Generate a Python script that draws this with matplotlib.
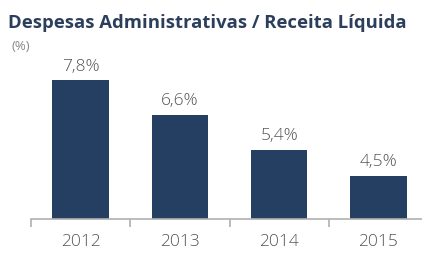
import matplotlib
matplotlib.use("Agg")
import matplotlib.pyplot as plt
import numpy as np

years = ["2012", "2013", "2014", "2015"]
values = [7.8, 6.6, 5.4, 4.5]
labels = ["7,8%", "6,6%", "5,4%", "4,5%"]
title = "Despesas Administrativas / Receita Líquida"
unit = "(%)"

W, H = 422, 256
fig = plt.figure(figsize=(W/100, H/100), dpi=100)
plt.rcParams['font.family'] = ['Open Sans', 'DejaVu Sans']

ax = fig.add_axes([31/W, 37/H, (428-31)/W, (219-60)/H])
x = np.arange(len(years))
ax.bar(x, values, width=0.57, color="#253f62", zorder=2)
ax.set_xlim(-0.5, 3.5)
ax.set_ylim(3.0, 8.5)

for xi, v, l in zip(x, values, labels):
    ax.annotate(l, (xi, v), xytext=(0, 4), textcoords="offset points",
                ha="center", va="bottom", fontsize=12.5, color="#555555",
                fontweight="light")

for s in ["top", "right", "left"]:
    ax.spines[s].set_visible(False)
ax.spines["bottom"].set_color("#b0b0b0")
ax.spines["bottom"].set_linewidth(1.2)
ax.set_yticks([])
ax.set_xticks(x)
ax.set_xticklabels(years, fontsize=12.5, color="#555555", fontweight="light")
ax.tick_params(axis="x", which="major", length=0, pad=11)
ax.set_xticks(np.arange(-0.5, 4, 1.0), minor=True)
ax.tick_params(axis="x", which="minor", length=6, color="#b0b0b0", width=1.2)

fig.text(8/W, 1 - 23/H, title, fontsize=13.3, fontweight="bold", color="#2b3f5c",
         ha="left", va="center")
fig.text(11/W, 1 - 47/H, unit, fontsize=9.5, color="#888888", ha="left", va="center")

fig.savefig("out.png", dpi=100)
